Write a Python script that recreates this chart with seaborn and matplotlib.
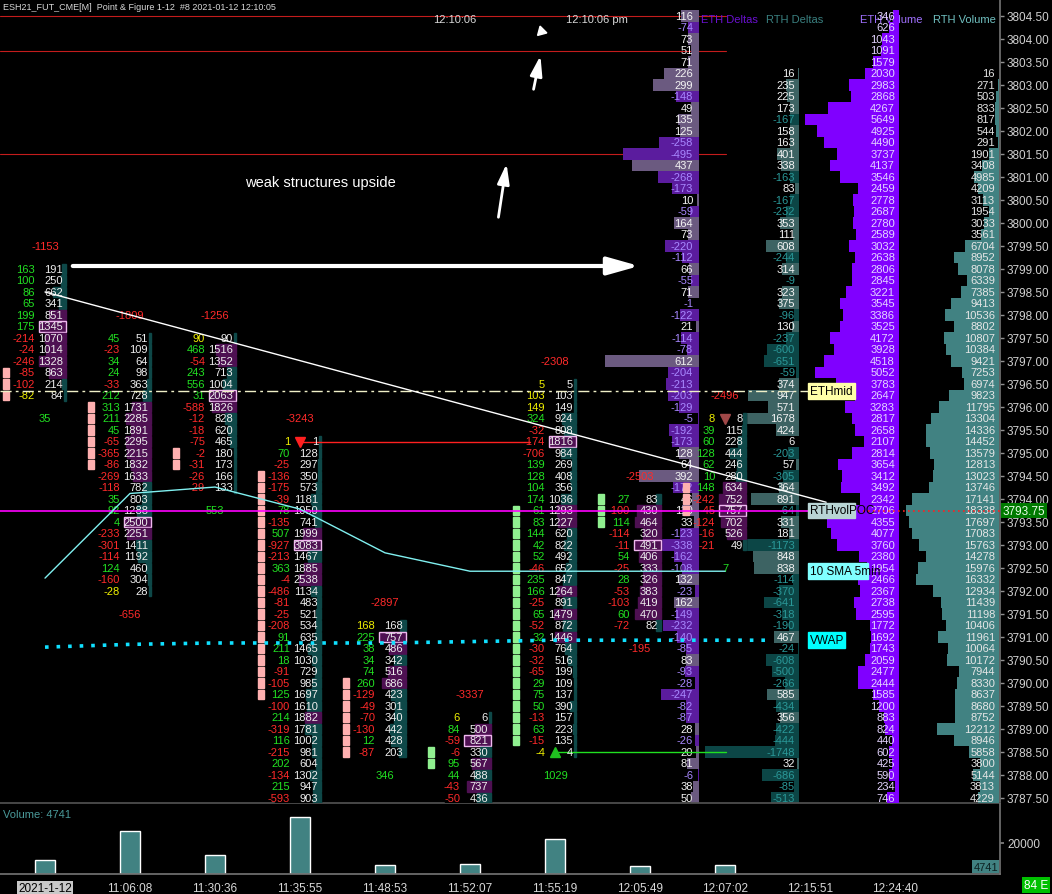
import numpy as np
import pandas as pd
import matplotlib
matplotlib.use("Agg")
import matplotlib.pyplot as plt
import seaborn as sns
from matplotlib.patches import Rectangle

# ======================================
# DATA
# ======================================

# ETH profile, one row per 0.25 from 3804.50 down to 3787.50
eth_top = 3804.50
eth_deltas = [116, -74, 73, 51, 71, 226, 299, -148, 49, 135, 125, -258, -495, 437, -268, -173, 10,
              -59, 164, 73, -220, -112, 66, -55, 71, -1, -122, 21, -114, -78, 612, -204, -213, -203,
              -129, -5, -192, -173, 128, 64, 392, -172, 46, 110, 33, -123, -338, -162, -108, 132, -23,
              162, -149, -232, -140, -85, 83, -93, -28, -247, -82, -87, 28, -26, 20, 81, -6, 38, 50]
eth_volume = [346, 626, 1043, 1091, 1579, 2030, 2983, 2868, 4267, 5649, 4925, 4490, 3737, 4137, 3546, 2459, 2778,
              2687, 2780, 2589, 3032, 2638, 2806, 2845, 3221, 3545, 3386, 3525, 4172, 3928, 4518, 5052, 3783, 2647,
              3283, 2817, 2658, 2107, 2814, 3654, 3412, 3492, 2342, 2706, 4355, 4077, 3760, 2380, 1954, 2466, 2367,
              2738, 2595, 1772, 1692, 1743, 2059, 2477, 2444, 1585, 1200, 883, 824, 440, 602, 425, 590, 234, 746]

# RTH profile, 3803.25 down to 3787.50
rth_top = 3803.25
rth_deltas = [16, 235, 225, 173, -167, 158, 163, 401, 338, -163, 83, -167,
              -232, 353, 111, 608, -244, 314, -9, 323, 375, -96, 130, -237, -600, -651, -59, 374, 947,
              571, 1678, 424, 6, -203, 57, -305, 364, 891, -64, 331, 181, -1173, 848, 838, -114, -370,
              -641, -318, -190, 467, -24, -608, -500, -266, 585, -434, 356, -422, -444, -1748, 32, -686, -85, -513]
rth_volume = [16, 271, 503, 833, 817, 544, 291, 1901, 3408, 4985, 4209, 3113,
              1954, 3033, 3561, 6704, 8952, 8078, 6339, 7385, 9413, 10536, 8802, 10807, 10384, 9421, 7253, 6974, 9823,
              11795, 13304, 14336, 14452, 13579, 12813, 13023, 13746, 17141, 18338, 17697, 17083, 15763, 14278, 15976,
              16332, 12934,
              11439, 11198, 10406, 11961, 10064, 10172, 7944, 8330, 8637, 8680, 8752, 12212, 8946, 5858, 3800, 5144,
              3813, 4229]

# point & figure footprint columns (left = delta, right = volume), top price first
fp1_top = 3799.00
fp1_delta = [163, 100, 86, 65, 199, 175, -214, -24, -246, -85, -102, -82]
fp1_volume = [191, 250, 662, 341, 851, 1345, 1070, 1014, 1328, 863, 214, 84]

fp2_top = 3797.50
fp2_delta = [45, -23, 34, 24, -33, 212, 313, 211, 45, -65, -365, -86, -269, -118, 35, 92, 4, -233, -301, -114,
             124, -160, -28]
fp2_volume = [51, 109, 64, 98, 363, 728, 1731, 2285, 1891, 2295, 2215, 1832, 1633, 782, 803, 1288, 2500, 2251,
              1411, 1192, 460, 304, 28]

fp3_top = 3797.50
fp3_delta = [90, 468, -54, 243, 556, 31, -588, -12, -18, -75, -2, -31, -26, -29]
fp3_volume = [90, 1516, 1352, 713, 1004, 2063, 1826, 828, 620, 465, 180, 173, 166, 133]

fp4_top = 3795.25
fp4_delta = [1, 70, -25, -136, -175, -39, 78, -135, 507, -927, -213, 363, -4, -486, -81, -25, -208, 91, 211, 18,
             -91, -105, 125, -100, 214, -319, 116, -215, 202, -134, 215, -593]
fp4_volume = [1, 128, 297, 350, 573, 1181, 1050, 741, 1999, 3083, 1467, 1885, 2538, 1134, 483, 521, 534, 635, 1465,
              1030, 729, 985, 1697, 1610, 1882, 1781, 1002, 981, 604, 1302, 947, 903]

fp5_top = 3791.25
fp5_delta = [168, 225, 38, 34, 74, 260, -129, -49, -70, -130, 12, -87]
fp5_volume = [168, 757, 486, 342, 516, 686, 423, 301, 340, 442, 428, 203]

fp6_top = 3789.25
fp6_delta = [6, 84, -59, -6, 95, 44, -43, -50]
fp6_volume = [6, 500, 821, 330, 567, 488, 737, 436]

fp7_top = 3796.50
fp7_delta = [5, 103, 149, 324, -32, -174, -706, 139, 128, 104, 174, 61, 83, 144, 42, 52, -46, 235, 166, -25, 65,
             -52, 32, -30, -32, -65, 29, 75, 50, -13, 63, -15, -4]
fp7_volume = [5, 103, 149, 924, 808, 1816, 984, 269, 408, 356, 1036, 1293, 1227, 620, 822, 492, 652, 847, 1264,
              891, 1479, 872, 1446, 764, 516, 199, 109, 137, 390, 157, 223, 135, 4]

fp8_top = 3794.00
fp8_delta = [27, -100, 114, -114, -11, 54, -25, 28, -53, -103, 60, -72]
fp8_volume = [83, 430, 464, 320, 491, 406, 333, 326, 383, 419, 470, 82]

fp9_top = 3795.75
fp9_delta = [8, 39, 60, 128, 62, 10, 148, -242, -45, -124, -16, -21]
fp9_volume = [8, 115, 228, 444, 246, 280, 634, 752, 757, 702, 526, 49]

column_head = [-1153, -1809, -1256, -3243, -2897, -3337, -2308, -2503, -2496]
column_foot = [35, -656, 553, None, 346, None, 1029, -195, 7]

# P&F boxes beside each column: first price, number of boxes, kind
box_top = [3796.75, 3796.00, 3795.00, 3794.50, 3790.00, 3788.50, 3793.75, 3794.00, 3794.25]
box_count = [3, 6, 2, 20, 7, 2, 21, 3, 3]
box_kind = ["O", "O", "O", "O", "O", "X", "X", "X", "O"]

# bar times and volume panel
bar_times = ["2021-1-12", "11:06:08", "11:30:36", "11:35:55", "11:48:53", "11:52:07",
             "11:55:19", "12:05:49", "12:07:02", "12:15:51", "12:24:40"]
bar_volume = [9000, 27700, 12300, 36800, 5800, 6500, 22600, 5200, 5800]

# studies
sma_x = [0, 1, 2, 3, 4, 5, 6, 7, 8]
sma_y = [3792.28, 3794.12, 3794.26, 3793.78, 3792.83, 3792.43, 3792.43, 3792.43, 3792.43]
vwap_x = [0, 1, 2, 3, 4, 5, 6, 7, 8, 8.5]
vwap_y = [3790.78, 3790.84, 3790.87, 3790.87, 3790.87, 3790.90, 3790.93, 3790.93, 3790.93, 3790.93]
trend_x = [0.0, 9.19]
trend_y = [3798.50, 3793.93]
eth_mid = 3796.35
rth_vol_poc = 3793.75
last_price = 3793.75

# ======================================
# LAYOUT HELPERS (pixel layout of the original screen)
# ======================================

W, H = 1052, 895
X0, XS = 45, 85          # first column centre, column spacing (px)
TOP_PX, PX_PER_PT = 17, 46


def xu(px):
    return (px - X0) / XS


def py(p):
    return eth_top - (p - TOP_PX) / PX_PER_PT


sns.set_theme(style="dark", rc={"axes.facecolor": "black", "figure.facecolor": "black",
                                "axes.edgecolor": "#606060", "axes.grid": False})
plt.rcParams["font.family"] = ["Liberation Sans", "DejaVu Sans"]

GREEN = "#22e022"
RED = "#ff2a2a"
YELLOW = "#f0f000"
FS = 8

fig = plt.figure(figsize=(W / 100, H / 100), dpi=100)
ax = fig.add_axes([0, 91 / H, 1000 / W, 804 / H])
axv = fig.add_axes([0, 20 / H, 1000 / W, 70 / H])

ax.set_xlim(xu(0), xu(1000))
ax.set_ylim(py(804), py(0))

# ======================================
# REFERENCE LINES
# ======================================

for lvl in [3804.50, 3803.75, 3801.50]:
    ax.plot([xu(0), xu(726)], [lvl, lvl], color="#c41c1c", lw=0.8, zorder=1)

ax.plot([xu(0), xu(808)], [eth_mid, eth_mid], color="#f0f0c8", lw=1, ls=(0, (8, 3, 2, 3)), zorder=6)
ax.plot([xu(0), xu(808)], [rth_vol_poc, rth_vol_poc], color="#ff00ff", lw=1.2, zorder=6)
ax.plot([xu(808), xu(1000)], [rth_vol_poc, rth_vol_poc], color="#ff2020", lw=1.2, ls=(0, (1, 2)), zorder=6)

# ======================================
# PROFILES
# ======================================

def profile(values, top, right_px, scale, pos_bar, neg_bar, pos_txt, neg_txt, z=2, pad=4):
    prices = top - 0.25 * np.arange(len(values))
    vals = np.array(values)
    lengths = np.abs(vals) * scale / XS
    colors = [pos_bar if v >= 0 else neg_bar for v in vals]
    ax.barh(prices, lengths, left=xu(right_px) - lengths, height=0.25, color=colors,
            edgecolor="none", zorder=z)
    for p, v in zip(prices, vals):
        ax.text(xu(right_px - pad), p, str(v), ha="right", va="center", fontsize=FS,
                color=pos_txt if v >= 0 else neg_txt, zorder=z + 0.5)


profile(eth_deltas, eth_top, 699, 0.154, "#6b5a80", "#5b1c9e", "#f4f4f4", "#a888ff", pad=6)
profile(rth_deltas, rth_top, 799, 0.054, "#3d6363", "#0c4646", "#f4f4f4", "#2a9898")
profile(eth_volume, eth_top, 899, 0.0166, "#8000ff", "#8000ff", "#e4d4ff", "#e4d4ff", z=3)
profile(rth_volume, rth_top, 999, 0.00508, "#418282", "#418282", "#e6e6e6", "#e6e6e6", z=3)

for name, x_px, col in [("ETH Deltas", 701, "#6a10d0"), ("RTH Deltas", 766, "#3a8080"),
                        ("ETH Volume", 860, "#a070ff"), ("RTH Volume", 933, "#70c0c0")]:
    ax.text(xu(x_px), py(20), name, ha="left", va="center", fontsize=8, color=col, zorder=1.5)

# ======================================
# FOOTPRINT COLUMNS
# ======================================

fp_tops = [fp1_top, fp2_top, fp3_top, fp4_top, fp5_top, fp6_top, fp7_top, fp8_top, fp9_top]
fp_deltas = [fp1_delta, fp2_delta, fp3_delta, fp4_delta, fp5_delta, fp6_delta, fp7_delta, fp8_delta, fp9_delta]
fp_volumes = [fp1_volume, fp2_volume, fp3_volume, fp4_volume, fp5_volume, fp6_volume, fp7_volume, fp8_volume,
              fp9_volume]

for i, (top, dl, vl) in enumerate(zip(fp_tops, fp_deltas, fp_volumes)):
    df = pd.DataFrame({"delta": dl, "volume": vl})
    df["price"] = top - 0.25 * np.arange(len(df))
    vmax = df["volume"].max()
    ax.add_patch(Rectangle((i + (-25) / XS, df["price"].min() - 0.125), 46 / XS, 0.25 * len(df),
                           color="black", zorder=3.6))
    for _, r in df.iterrows():
        p, d, v = r["price"], int(r["delta"]), int(r["volume"])
        wpx = max(2.5, v / vmax * 27)
        cell = "#4e1052" if v >= 0.6 * vmax else "#0e4848"
        if v == vmax:
            ax.add_patch(Rectangle((i - 6 / XS, p - 0.115), 27 / XS, 0.23, facecolor="#4e1052",
                                   edgecolor="#f0b8f0", lw=1, zorder=3.8))
        else:
            ax.add_patch(Rectangle((i + (21 - wpx) / XS, p - 0.11), wpx / XS, 0.22, color=cell, zorder=3.8))
        if abs(d) >= 0.95 * v:
            dcol = YELLOW
        else:
            dcol = GREEN if d > 0 else RED
        ax.text(i - 10 / XS, p, str(d), ha="right", va="center", fontsize=FS, color=dcol, zorder=4)
        ax.text(i + 18 / XS, p, str(v), ha="right", va="center", fontsize=FS, color="#eeeeee", zorder=4)
    ax.text(i, top + 0.5, str(column_head[i]), ha="center", va="center", fontsize=FS, color=RED, zorder=4)
    if column_foot[i] is not None:
        ax.text(i, df["price"].min() - 0.5, str(column_foot[i]), ha="center", va="center", fontsize=FS,
                color=GREEN if column_foot[i] > 0 else RED, zorder=4)
    # P&F boxes
    for k in range(box_count[i]):
        bp = box_top[i] - 0.25 * k
        ax.add_patch(Rectangle((i - 42 / XS, bp - 0.105), 5.5 / XS, 0.21,
                               color="#ffb0b0" if box_kind[i] == "O" else "#90f090", zorder=4))

# reversal markers
ax.plot([3, xu(530)], [fp4_top, fp4_top], color="#ff2020", lw=1, zorder=3.9)
ax.plot([3], [fp4_top], marker="v", color="#ff2020", ms=7, zorder=4.5)
fp7_last = fp7_top - 0.25 * (len(fp7_delta) - 1)
ax.plot([6, xu(726)], [fp7_last, fp7_last], color="#20e020", lw=1, zorder=3.9)
ax.plot([6], [fp7_last], marker="^", color="#20c020", ms=7, zorder=4.5)
ax.plot([8], [fp9_top], marker="v", color="#a04848", ms=7, zorder=4.5)

# ======================================
# STUDIES
# ======================================

sns.lineplot(x=sma_x, y=sma_y, ax=ax, color="#80f0f0", lw=1, sort=False, zorder=6)
sns.lineplot(x=vwap_x, y=vwap_y, ax=ax, color="#10e0ff", lw=2.6, ls=(0, (1, 2.2)), sort=False, zorder=6)
ax.plot(trend_x, trend_y, color="white", lw=1, zorder=6)

for txt, lvl, x1, bg in [("ETHmid", eth_mid, 855, "#ffffa8"), ("RTHvolPOC", rth_vol_poc, 855, "#b8d4d4"),
                         ("10 SMA 5min", sma_y[-1], 868, "#80ffff"), ("VWAP", vwap_y[-1], 845, "#00ffff")]:
    rect = Rectangle((xu(808), lvl - 0.17), (x1 - 808) / XS, 0.34, color=bg, zorder=7)
    ax.add_patch(rect)
    t = ax.text(xu(810), lvl, txt, ha="left", va="center", fontsize=8.5, color="black", zorder=7.5)
    t.set_clip_path(rect)

# ======================================
# ANNOTATIONS
# ======================================

ax.annotate("", xy=(xu(642), py(267)), xytext=(xu(70), py(267)),
            arrowprops=dict(arrowstyle="-|>,head_length=1.6,head_width=0.45", color="white", lw=3), zorder=8)
ax.annotate("", xy=(xu(507), py(162)), xytext=(xu(498), py(221)),
            arrowprops=dict(arrowstyle="-|>,head_length=1.0,head_width=0.3", color="white", lw=2), zorder=8)
ax.annotate("", xy=(xu(541), py(54)), xytext=(xu(533), py(93)),
            arrowprops=dict(arrowstyle="-|>,head_length=1.0,head_width=0.3", color="white", lw=2), zorder=8)
ax.plot([xu(541)], [py(32)], marker=(3, 0, 15), color="white", ms=8, zorder=8)
ax.text(xu(245), py(183), "weak structures upside", ha="left", va="center", fontsize=10.5, color="white",
        zorder=8)

# ======================================
# PRICE AXIS
# ======================================

ax.yaxis.tick_right()
ticks = np.arange(3787.5, 3804.51, 0.5)
ax.set_yticks(ticks)
ax.set_yticklabels([f"{t:.2f}" for t in ticks])
ax.tick_params(axis="y", colors="#909090", labelsize=8.5, length=3, width=1, pad=2, labelcolor="#d0d0d0")
ax.set_xticks([])
for s in ["left", "top"]:
    ax.spines[s].set_visible(False)
ax.spines["right"].set_color("#707070")
ax.spines["bottom"].set_color("#505050")
ylo, yhi = ax.get_ylim()
ax.text(1.003, (last_price - ylo) / (yhi - ylo), f"{last_price:.2f}",
        transform=ax.transAxes, ha="left", va="center", fontsize=8.5, color="#e8ffe8", zorder=9, clip_on=False,
        bbox=dict(facecolor="#007a00", edgecolor="none", pad=1.2))

# ======================================
# VOLUME PANEL
# ======================================

vol_df = pd.DataFrame({"bar": np.arange(len(bar_volume)), "volume": bar_volume})
sns.barplot(data=vol_df, x="bar", y="volume", native_scale=True, color="#418282", saturation=1,
            width=20 / XS, errorbar=None, ax=axv)
axv.set_xlim(xu(0), xu(1000))
axv.set_ylim(0, 45160)
axv.set_xlabel("")
axv.set_ylabel("")
axv.yaxis.tick_right()
axv.set_yticks([20000])
axv.set_yticklabels(["20000"])
axv.set_xticks(np.arange(len(bar_times)))
axv.set_xticklabels(bar_times)
axv.tick_params(axis="x", colors="#808080", labelcolor="#d8d8d8", labelsize=8.5, length=3, pad=3)
axv.tick_params(axis="y", colors="#808080", labelcolor="#d0d0d0", labelsize=8.5, length=3, pad=2)
first = axv.get_xticklabels()[0]
first.set_color("black")
first.set_bbox(dict(facecolor="#c8c8c8", edgecolor="none", pad=1))
for s in ["left", "top"]:
    axv.spines[s].set_visible(False)
axv.spines["right"].set_color("#707070")
axv.spines["bottom"].set_color("#707070")
axv.text(0.003, 0.86, "Volume: 4741", transform=axv.transAxes, ha="left", va="center", fontsize=8,
         color="#4a9a9a")
axv.text(xu(998), 4741, "4741", ha="right", va="center", fontsize=8, color="#0c2020",
         bbox=dict(facecolor="#418282", edgecolor="none", pad=1))

# ======================================
# HEADER
# ======================================

fig.text(3 / W, 1 - 8 / H, "ESH21_FUT_CME[M]  Point & Figure 1-12  #8 2021-01-12 12:10:05", ha="left",
         va="center", fontsize=6.5, color="#d8d8d8")
fig.text(433 / W, 1 - 20 / H, "12:10:06", ha="left", va="center", fontsize=8, color="#d8d8d8")
fig.text(566 / W, 1 - 20 / H, "12:10:06 pm", ha="left", va="center", fontsize=8, color="#d8d8d8")
fig.text(1036 / W, 1 - 886 / H, "84 E", ha="center", va="center", fontsize=8.5, color="white",
         bbox=dict(facecolor="#00c000", edgecolor="none", pad=1.5))

fig.savefig("out.png", dpi=100, facecolor="black")
